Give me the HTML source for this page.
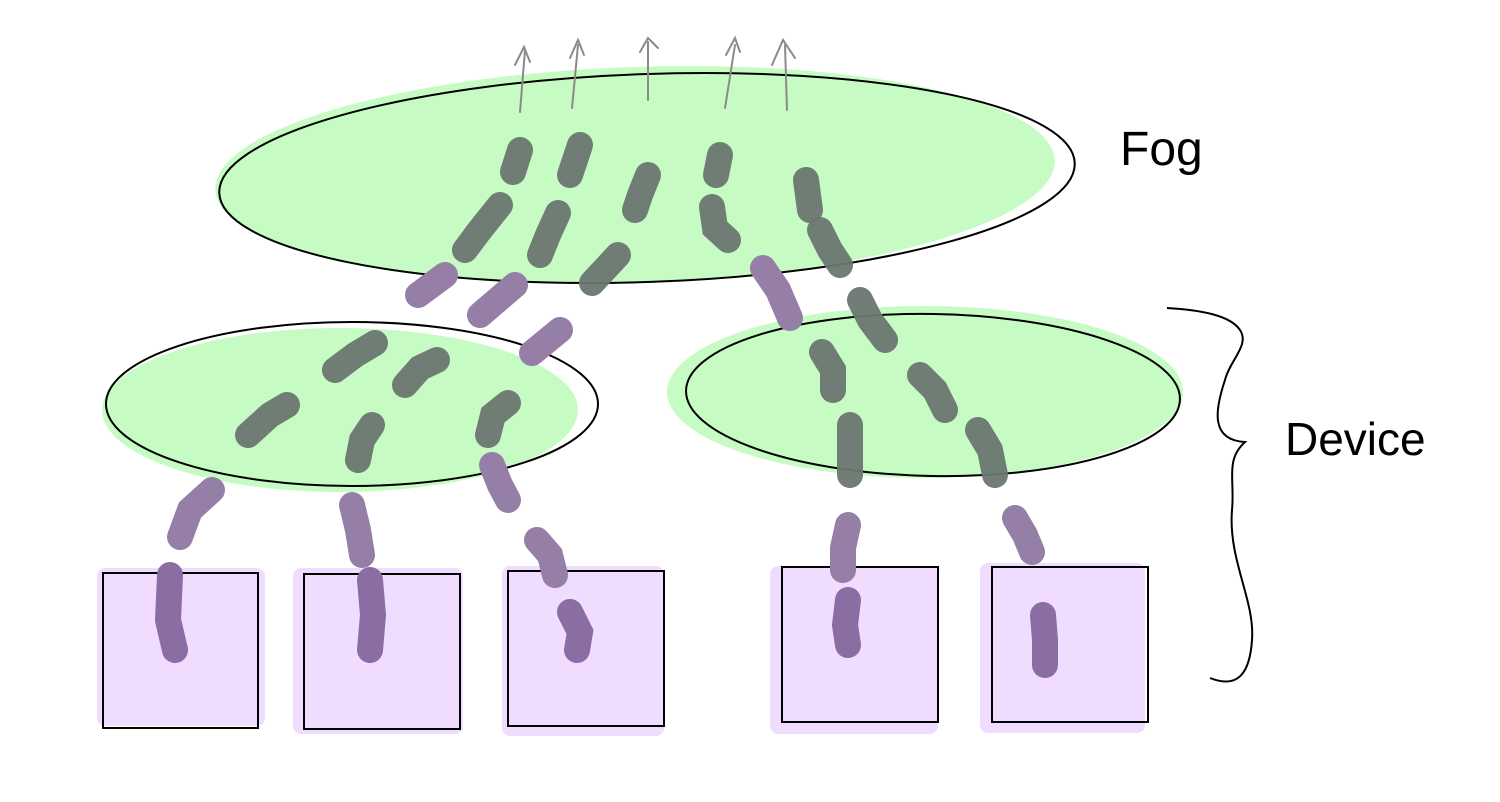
<!DOCTYPE html>
<html><head><meta charset="utf-8">
<style>
html,body{margin:0;padding:0;background:#fff;}
svg{display:block;}
text{font-family:"Liberation Sans",sans-serif;}
</style></head>
<body>
<svg width="1500" height="802" viewBox="0 0 1500 802">
  <rect width="1500" height="802" fill="#fff"/>
  <g>
    <ellipse cx="635" cy="175" rx="420" ry="108" fill="#c6fcc4" transform="rotate(-2 635 175)"/>
    <ellipse cx="647" cy="178" rx="428" ry="104" fill="none" stroke="#000" stroke-width="2" transform="rotate(-2 647 178)"/>
  </g>
  <g>
    <ellipse cx="340" cy="410" rx="238" ry="82" fill="#c6fcc4"/>
    <ellipse cx="352" cy="404" rx="246" ry="82" fill="none" stroke="#000" stroke-width="2"/>
  </g>
  <g>
    <ellipse cx="925" cy="392" rx="258" ry="86" fill="#c6fcc4"/>
    <ellipse cx="933" cy="395" rx="247" ry="81" fill="none" stroke="#000" stroke-width="2" transform="rotate(1 933 395)"/>
  </g>
  <g stroke="#000" stroke-width="2">
    <rect x="97" y="568" width="168" height="158" rx="8" fill="#efdcfe" stroke="none"/>
    <rect x="103" y="573" width="155" height="155" fill="none"/>
    <rect x="293" y="568" width="170" height="166" rx="8" fill="#efdcfe" stroke="none"/>
    <rect x="304" y="574" width="156" height="155" fill="none"/>
    <rect x="502" y="566" width="162" height="170" rx="8" fill="#efdcfe" stroke="none"/>
    <rect x="508" y="571" width="156" height="155" fill="none"/>
    <rect x="770" y="566" width="168" height="168" rx="8" fill="#efdcfe" stroke="none"/>
    <rect x="782" y="567" width="156" height="155" fill="none"/>
    <rect x="980" y="563" width="165" height="170" rx="8" fill="#efdcfe" stroke="none"/>
    <rect x="992" y="567" width="156" height="155" fill="none"/>
  </g>
  <g fill="none" stroke-linecap="round" stroke-width="26">
    <g stroke="#8a6ea3">
      <path d="M170 575 L168 620 L175 650"/>
      <path d="M370 580 L373 615 L370 650"/>
      <path d="M570 612 L580 632 L577 650"/>
      <path d="M848 600 L845 625 L848 645"/>
      <path d="M1043 615 L1045 640 L1045 665"/>
    </g>
    <g stroke="#957fa7">
      <path d="M212 490 L190 510 L180 537"/>
      <path d="M352 505 L358 530 L362 555"/>
      <path d="M537 540 L550 555 L555 575"/>
      <path d="M848 525 L843 548 L843 570"/>
      <path d="M1015 518 L1025 535 L1032 552"/>
      <path d="M492 465 L500 485 L508 500"/>
      <path d="M418 295 L445 275"/>
      <path d="M480 315 L515 285"/>
      <path d="M532 353 L560 330"/>
      <path d="M763 268 L778 290 L790 318"/>
    </g>
    <g stroke="#6b7671" stroke-opacity="0.95">
      <path d="M248 435 L270 415 L287 405"/>
      <path d="M335 370 L355 355 L375 343"/>
      <path d="M405 385 L420 368 L437 360"/>
      <path d="M372 425 L362 440 L358 460"/>
      <path d="M508 403 L493 415 L488 435"/>
      <path d="M592 283 L618 255"/>
      <path d="M860 300 L870 320 L885 340"/>
      <path d="M822 352 L833 370 L833 390"/>
      <path d="M920 375 L935 390 L945 410"/>
      <path d="M850 425 L850 475"/>
      <path d="M978 430 L990 450 L995 475"/>
      <path d="M520 150 L513 172"/>
      <path d="M580 145 L570 175"/>
      <path d="M648 175 L640 195 L635 210"/>
      <path d="M720 155 L716 175"/>
      <path d="M806 180 L810 210"/>
      <path d="M500 205 L480 230 L465 250"/>
      <path d="M558 213 L548 235 L540 255"/>
      <path d="M712 207 L715 228 L728 240"/>
      <path d="M820 230 L830 250 L840 265"/>
    </g>
  </g>
  <g fill="none" stroke="#8a8a8a" stroke-width="2" stroke-linecap="round">
    <path d="M520 112 L525 50 M515 65 L524 47 L530 62"/>
    <path d="M572 108 L578 45 M570 58 L578 40 L584 55"/>
    <path d="M648 100 L648 42 M640 52 L648 38 L658 48"/>
    <path d="M725 108 L735 45 M726 55 L735 38 L740 52"/>
    <path d="M787 110 L785 45 M772 65 L783 40 L795 58"/>
  </g>
  <path d="M1167 308 C1200 310 1230 315 1240 330 C1250 345 1230 360 1225 380 C1215 410 1210 440 1245 442 C1225 460 1235 480 1232 510 C1228 560 1255 600 1252 640 C1250 670 1240 690 1210 678" fill="none" stroke="#000" stroke-width="2"/>
  <text x="1120" y="165" font-size="48" fill="#000" style="font-weight:300">Fog</text>
  <text x="1285" y="455" font-size="46" fill="#000" style="font-weight:300">Device</text>
</svg>
</body></html>
